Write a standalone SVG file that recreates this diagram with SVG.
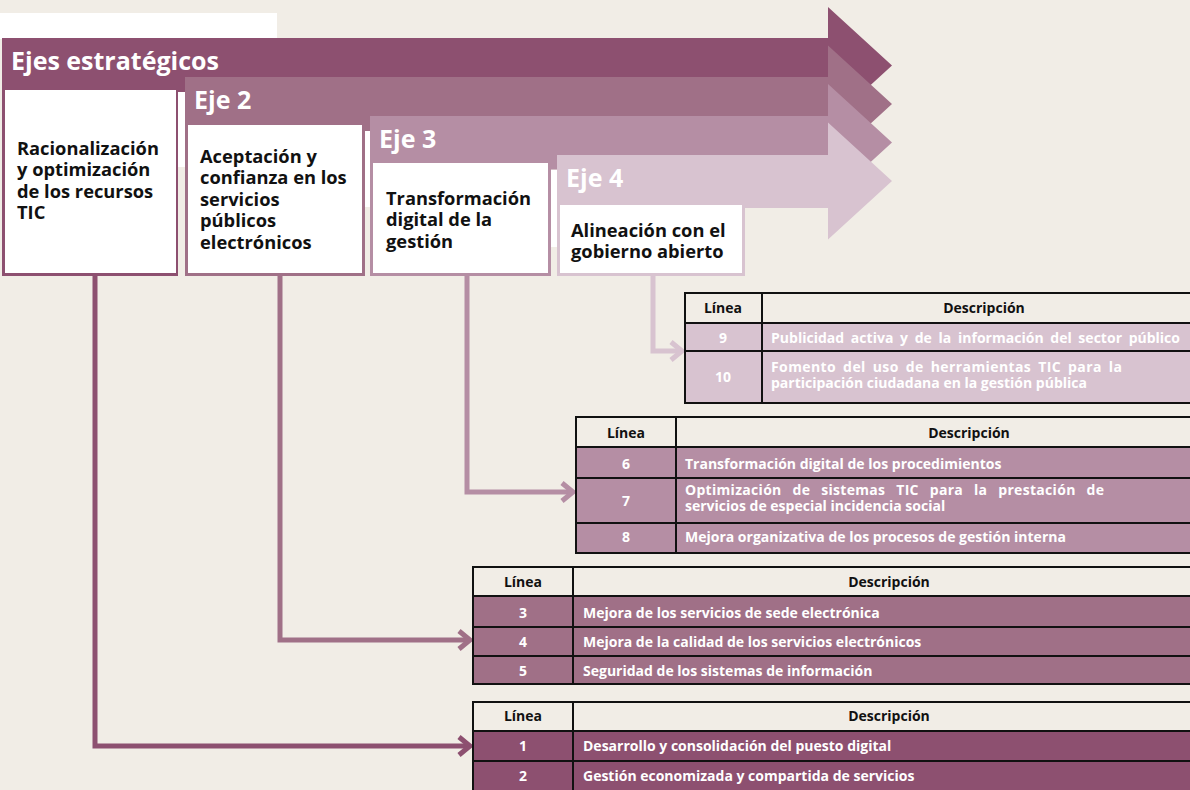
<svg xmlns="http://www.w3.org/2000/svg" width="1190" height="790" viewBox="0 0 1190 790">
  <style>
    text { font-family: "Open Sans", "Noto Sans", "DejaVu Sans", sans-serif; font-weight: 700; }
    .axis-title { fill: #ffffff; font-size: 25px; }
    .box-text { fill: #111111; font-size: 18.3px; }
    .th { fill: #111111; font-size: 14px; text-anchor: middle; }
    .num { fill: #ffffff; font-size: 14px; text-anchor: middle; }
    .desc { fill: #ffffff; font-size: 14px; }
    .grid { stroke: #111111; stroke-width: 2; fill: none; }
    .hdr { fill: #f1ede6; }
    .conn { fill: none; stroke-width: 5; stroke-linejoin: miter; }
  </style>
  <defs>
    <marker id="chev1" viewBox="-16 -12 20 24" refX="0" refY="0" markerWidth="20" markerHeight="24" markerUnits="userSpaceOnUse" orient="auto">
      <path d="M-11,-9 L0,0 L-11,9" fill="none" stroke="#8d5070" stroke-width="5"/>
    </marker>
    <marker id="chev2" viewBox="-16 -12 20 24" refX="0" refY="0" markerWidth="20" markerHeight="24" markerUnits="userSpaceOnUse" orient="auto">
      <path d="M-11,-9 L0,0 L-11,9" fill="none" stroke="#a07087" stroke-width="5"/>
    </marker>
    <marker id="chev3" viewBox="-16 -12 20 24" refX="0" refY="0" markerWidth="20" markerHeight="24" markerUnits="userSpaceOnUse" orient="auto">
      <path d="M-11,-9 L0,0 L-11,9" fill="none" stroke="#b58ea4" stroke-width="5"/>
    </marker>
    <marker id="chev4" viewBox="-16 -12 20 24" refX="0" refY="0" markerWidth="20" markerHeight="24" markerUnits="userSpaceOnUse" orient="auto">
      <path d="M-11,-9 L0,0 L-11,9" fill="none" stroke="#d8c3d0" stroke-width="5"/>
    </marker>
  </defs>

  <!-- page -->
  <rect x="0" y="0" width="1190" height="790" fill="#f1ede6"/>
  <rect x="0" y="13" width="277" height="26" fill="#ffffff"/>
  <!-- light gaps between the axis panels -->
  <rect x="177" y="92" width="9" height="75" fill="#ffffff"/>
  <rect x="364" y="131" width="7" height="76" fill="#ffffff"/>
  <rect x="550" y="170" width="8" height="77" fill="#ffffff"/>

  <!-- axis 1 -->
  <g id="eje1">
    <path d="M2,38 H828 V7 L892,65.5 L828,124 V92 H178 V276 H2 Z" fill="#8d5070"/>
    <rect x="5" y="90" width="171" height="183" fill="#ffffff"/>
    <text class="axis-title" x="11" y="70">Ejes estratégicos</text>
    <text class="box-text" x="17" y="155">Racionalización</text>
    <text class="box-text" x="17" y="176.3">y optimización</text>
    <text class="box-text" x="17" y="197.6">de los recursos</text>
    <text class="box-text" x="17" y="219">TIC</text>
  </g>

  <!-- axis 2 -->
  <g id="eje2">
    <path d="M185,77 H828 V45.5 L892,104 L828,162.5 V131 H365 V276 H185 Z" fill="#a07087"/>
    <rect x="188" y="125" width="174" height="148" fill="#ffffff"/>
    <text class="axis-title" x="194" y="109">Eje 2</text>
    <text class="box-text" x="200" y="162.5">Aceptación y</text>
    <text class="box-text" x="200" y="184">confianza en los</text>
    <text class="box-text" x="200" y="205.5">servicios</text>
    <text class="box-text" x="200" y="227">públicos</text>
    <text class="box-text" x="200" y="248.5">electrónicos</text>
  </g>

  <!-- axis 3 -->
  <g id="eje3">
    <path d="M370,116 H828 V84 L892,142.5 L828,201 V169.5 H551 V276 H370 Z" fill="#b58ea4"/>
    <rect x="373" y="163" width="175" height="110" fill="#ffffff"/>
    <text class="axis-title" x="379" y="148">Eje 3</text>
    <text class="box-text" x="386" y="204.5">Transformación</text>
    <text class="box-text" x="386" y="226">digital de la</text>
    <text class="box-text" x="386" y="247.5">gestión</text>
  </g>

  <!-- axis 4 -->
  <g id="eje4">
    <path d="M557,155 H828 V122.5 L892,181 L828,239.5 V208 H745 V276 H557 Z" fill="#d8c3d0"/>
    <rect x="560" y="205" width="182" height="68" fill="#ffffff"/>
    <text class="axis-title" x="566" y="187">Eje 4</text>
    <text class="box-text" x="571" y="237">Alineación con el</text>
    <text class="box-text" x="571" y="258">gobierno abierto</text>
  </g>

  <!-- connectors -->
  <g id="connectors">
    <path class="conn" d="M95,276 V746 H470" stroke="#8d5070" marker-end="url(#chev1)"/>
    <path class="conn" d="M280,276 V640 H470" stroke="#a07087" marker-end="url(#chev2)"/>
    <path class="conn" d="M467,276 V492 H573" stroke="#b58ea4" marker-end="url(#chev3)"/>
    <path class="conn" d="M653,276 V351 H682" stroke="#d8c3d0" marker-end="url(#chev4)"/>
  </g>

  <!-- lines of axis 4 -->
  <g id="tabla-eje4">
    <rect class="hdr" x="685" y="293" width="520" height="30"/>
    <rect x="685" y="323" width="520" height="80" fill="#d8c3d0"/>
    <rect class="grid" x="685" y="293" width="520" height="110"/>
    <path class="grid" d="M685,323 H1205 M685,351 H1205 M762,293 V403"/>
    <text class="th" x="723" y="313">Línea</text>
    <text class="th" x="984" y="313">Descripción</text>
    <text class="num" x="723" y="343">9</text>
    <text class="desc" x="771" y="343" word-spacing="3" textLength="351" lengthAdjust="spacing">Publicidad activa y de la información del sector</text>
    <text class="desc" x="1180" y="343" text-anchor="end">público</text>
    <text class="num" x="723" y="382">10</text>
    <text class="desc" x="771" y="372" word-spacing="3" textLength="351" lengthAdjust="spacing">Fomento del uso de herramientas TIC para la</text>
    <text class="desc" x="771" y="388">participación ciudadana en la gestión pública</text>
  </g>

  <!-- lines of axis 3 -->
  <g id="tabla-eje3">
    <rect class="hdr" x="576" y="417" width="630" height="30"/>
    <rect x="576" y="447" width="630" height="106" fill="#b58ea4"/>
    <rect class="grid" x="576" y="417" width="630" height="136"/>
    <path class="grid" d="M576,447 H1206 M576,478 H1206 M576,523 H1206 M676,417 V553"/>
    <text class="th" x="626" y="438">Línea</text>
    <text class="th" x="969" y="438">Descripción</text>
    <text class="num" x="626" y="506">7</text>
    <text class="num" x="626" y="469">6</text>
    <text class="desc" x="685" y="469">Transformación digital de los procedimientos</text>
    <text class="desc" x="685" y="495" word-spacing="7" textLength="419" lengthAdjust="spacing">Optimización de sistemas TIC para la prestación de</text>
    <text class="desc" x="685" y="511">servicios de especial incidencia social</text>
    <text class="num" x="626" y="542">8</text>
    <text class="desc" x="685" y="542">Mejora organizativa de los procesos de gestión interna</text>
  </g>

  <!-- lines of axis 2 -->
  <g id="tabla-eje2">
    <rect class="hdr" x="473" y="567" width="740" height="29"/>
    <rect x="473" y="596" width="740" height="88" fill="#a07087"/>
    <rect class="grid" x="473" y="567" width="740" height="117"/>
    <path class="grid" d="M473,596 H1213 M473,627 H1213 M473,656 H1213 M573,567 V684"/>
    <text class="th" x="523" y="587">Línea</text>
    <text class="th" x="889" y="587">Descripción</text>
    <text class="num" x="523" y="618">3</text>
    <text class="desc" x="583" y="618">Mejora de los servicios de sede electrónica</text>
    <text class="num" x="523" y="647">4</text>
    <text class="desc" x="583" y="647">Mejora de la calidad de los servicios electrónicos</text>
    <text class="num" x="523" y="676">5</text>
    <text class="desc" x="583" y="676">Seguridad de los sistemas de información</text>
  </g>

  <!-- lines of axis 1 -->
  <g id="tabla-eje1">
    <rect class="hdr" x="473" y="702" width="740" height="29"/>
    <rect x="473" y="731" width="740" height="70" fill="#8d5070"/>
    <rect class="grid" x="473" y="702" width="740" height="99"/>
    <path class="grid" d="M473,731 H1213 M473,761 H1213 M573,702 V801"/>
    <text class="th" x="523" y="721">Línea</text>
    <text class="th" x="889" y="721">Descripción</text>
    <text class="num" x="523" y="751">1</text>
    <text class="desc" x="583" y="751">Desarrollo y consolidación del puesto digital</text>
    <text class="num" x="523" y="781">2</text>
    <text class="desc" x="583" y="781">Gestión economizada y compartida de servicios</text>
  </g>
</svg>
